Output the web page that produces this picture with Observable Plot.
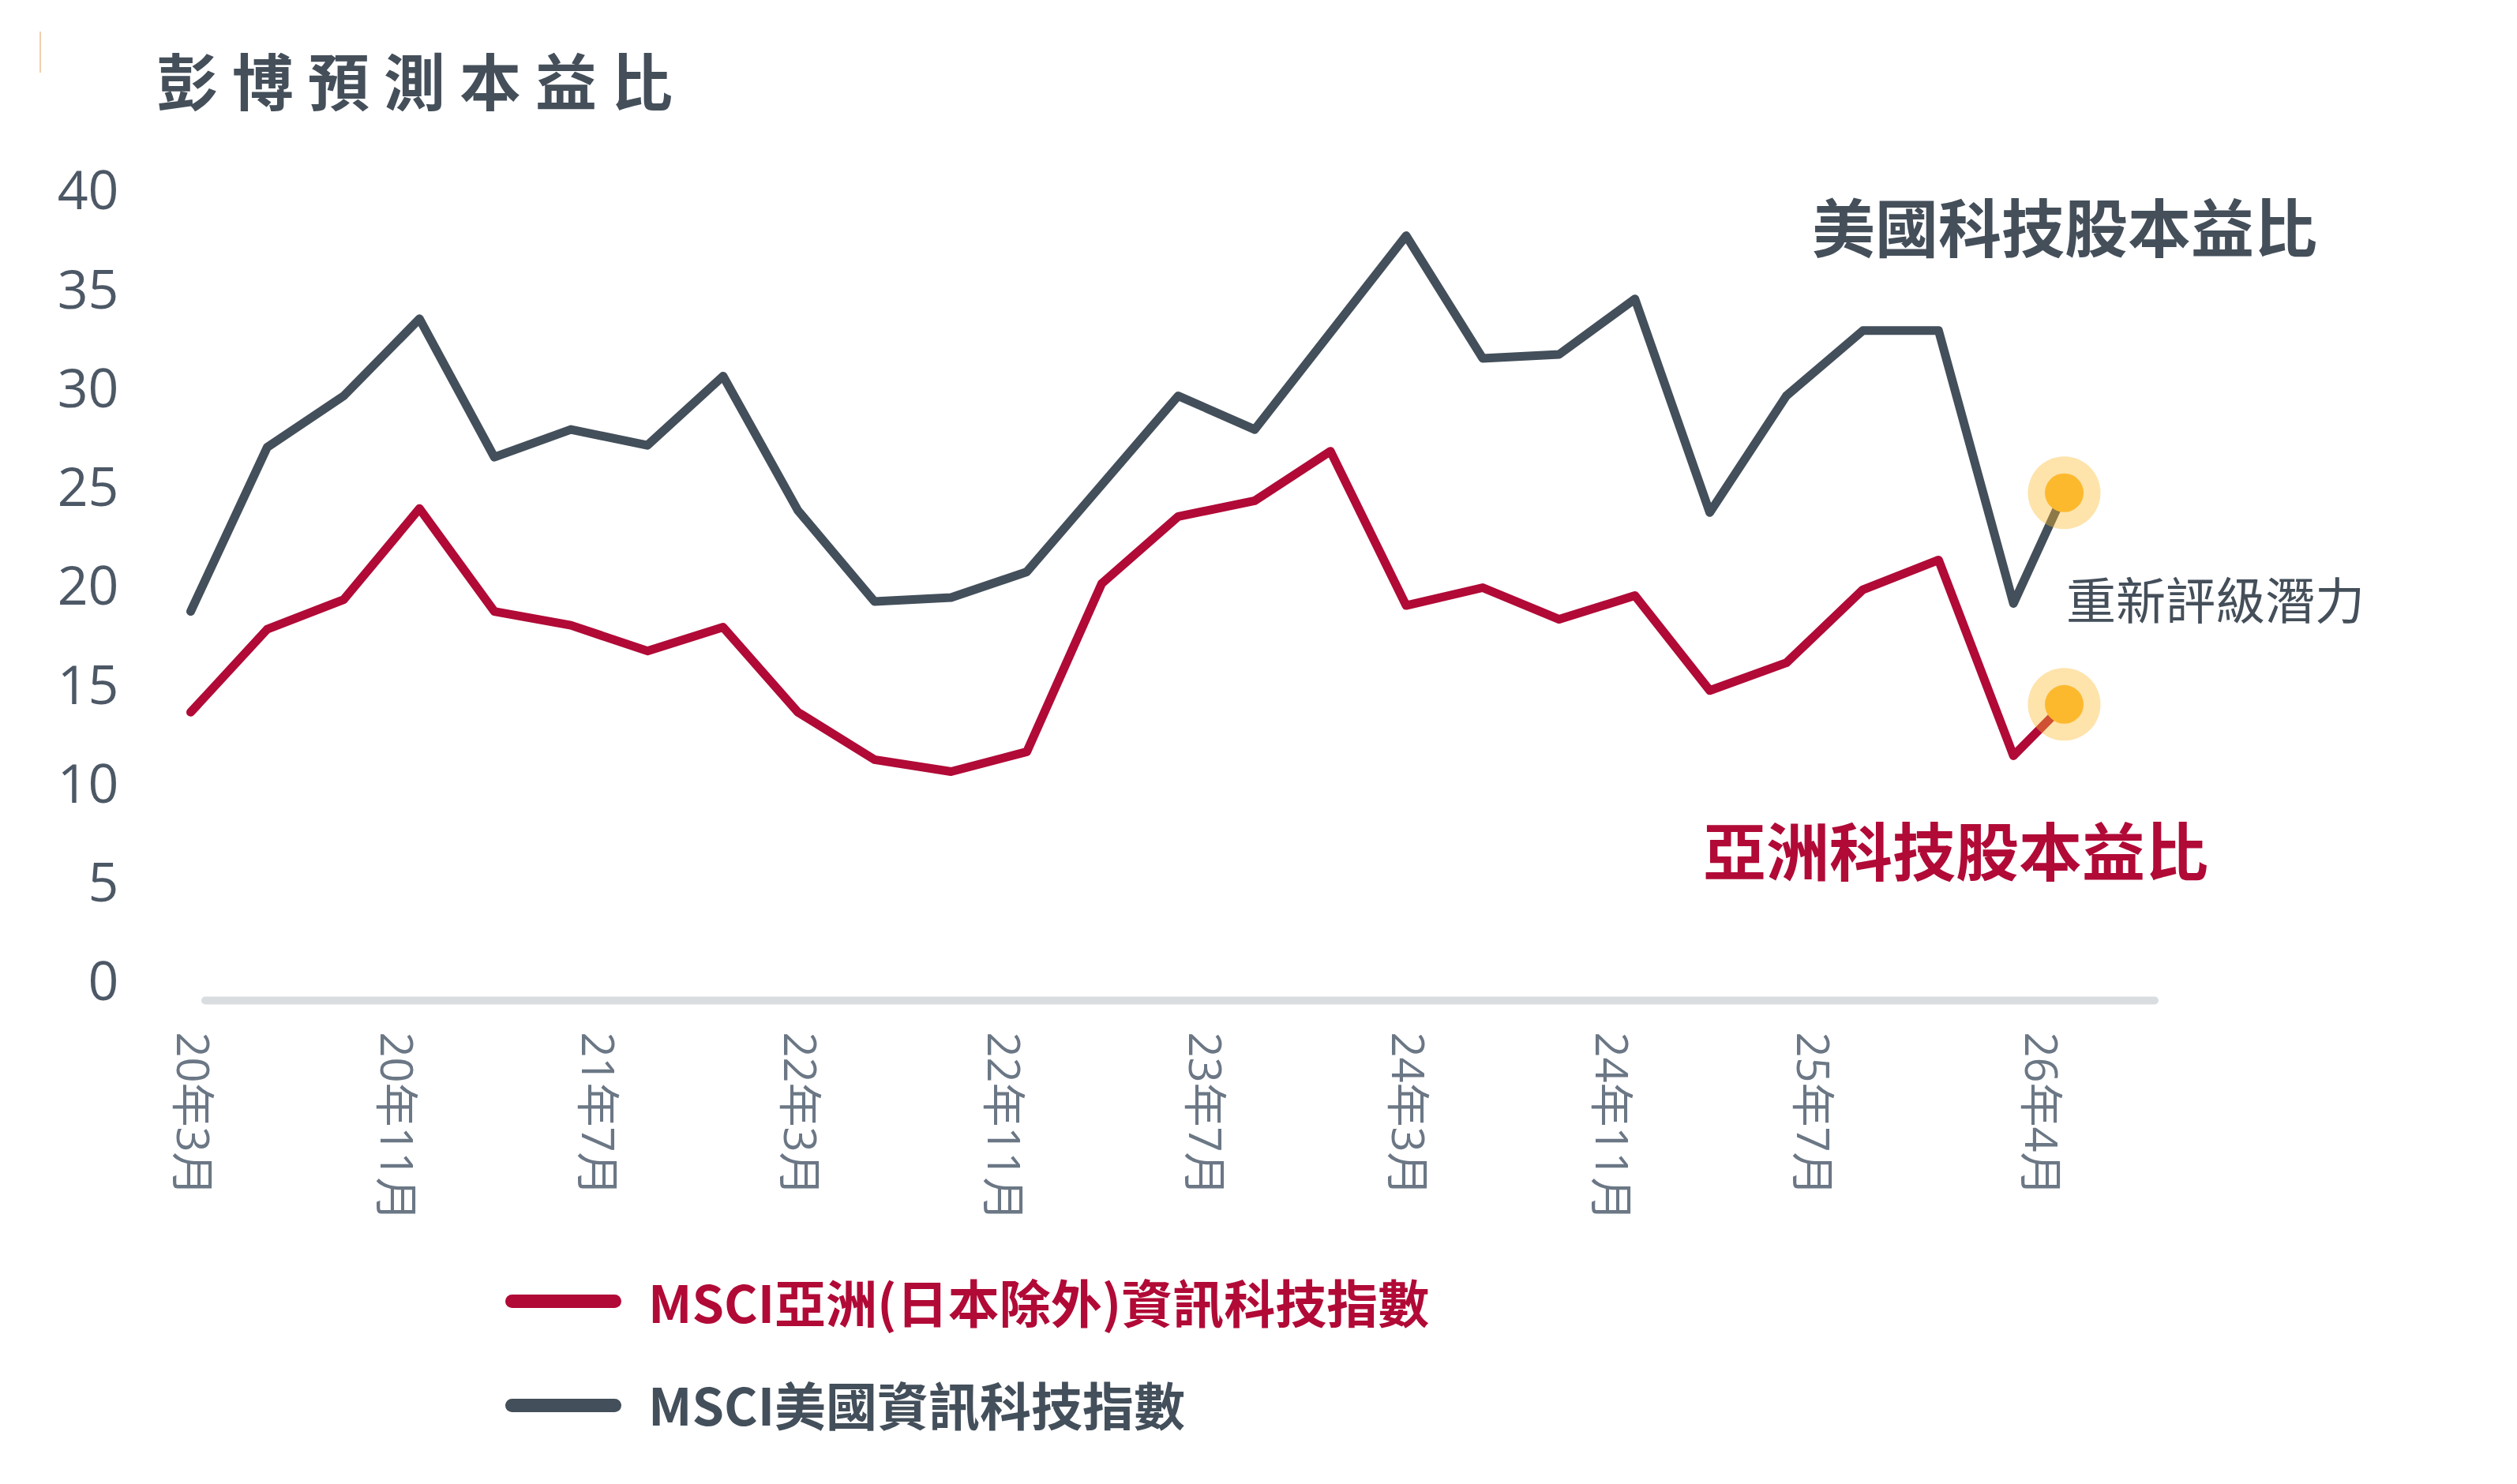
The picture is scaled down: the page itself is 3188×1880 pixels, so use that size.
<!DOCTYPE html>
<html>
<head>
<meta charset="utf-8">
<script src="https://cdn.jsdelivr.net/npm/d3@7"></script>
<script src="https://cdn.jsdelivr.net/npm/@observablehq/plot@0.6"></script>
<style>
  html, body { margin: 0; padding: 0; background: #fff; overflow: hidden; }
  #wrap { position: relative; width: 3188px; height: 1880px; font-family: "Noto Sans CJK TC", "Noto Sans", sans-serif; }
  #chart { position: absolute; left: 0; top: 0; }
  .t { position: absolute; line-height: 1; white-space: nowrap; font-family: "Noto Sans CJK TC", sans-serif; }
  .sw { position: absolute; height: 17px; border-radius: 9px; }
</style>
</head>
<body>
<div id="wrap">
  <div id="chart"></div>
  <div style="position:absolute;left:50px;top:40px;width:2px;height:52px;background:#f1cfae;"></div>
  <div class="t" id="title" style="left:198px;top:61px;font-size:78px;letter-spacing:18px;font-weight:700;color:#444f5a;"></div>
  <div class="t" id="usNote" style="left:2295px;top:244px;font-size:80px;font-weight:700;color:#444f5a;"></div>
  <div class="t" id="asiaNote" style="left:2157px;top:1034px;font-size:80px;font-weight:700;color:#b10a37;"></div>
  <div class="t" id="rerate" style="left:2617px;top:725px;font-size:63px;font-weight:400;color:#444f5a;"></div>
  <div class="sw" style="left:640px;top:1640px;width:147px;background:#b10a37;"></div>
  <div class="t" id="legAsia" style="left:821px;top:1616px;font-size:65px;font-weight:700;color:#b10a37;"></div>
  <div class="sw" style="left:640px;top:1772px;width:147px;background:#434f5a;"></div>
  <div class="t" id="legUS" style="left:821px;top:1746px;font-size:65px;font-weight:700;color:#434f5a;"></div>
</div>
<script>
// ---- data ----
const titleText = "彭博預測本益比";
const usLabel = "美國科技股本益比";
const asiaLabel = "亞洲科技股本益比";
const rerateLabel = "重新評級潛力";
const legendAsia = "MSCI亞洲(日本除外)資訊科技指數";
const legendUS = "MSCI美國資訊科技指數";

const dates = [
  "2020-03","2020-06","2020-09","2020-12",
  "2021-03","2021-06","2021-09","2021-12",
  "2022-03","2022-06","2022-09","2022-12",
  "2023-03","2023-06","2023-09","2023-12",
  "2024-03","2024-06","2024-09","2024-12",
  "2025-03","2025-06","2025-09","2025-12",
  "2026-03","2026-05"
];
const usPE = [
  18.8, 27.1, 29.7, 33.6, 26.6, 28.0, 27.2, 30.7, 23.9, 19.3,
  19.5, 20.8, 25.2, 29.7, 28.0, 32.9, 37.8, 31.6, 31.8, 34.6,
  23.8, 29.7, 33.0, 33.0, 19.2, 24.8
];
const asiaPE = [
  13.7, 17.9, 19.4, 24.0, 18.8, 18.1, 16.8, 18.0, 13.7, 11.3,
  10.7, 11.7, 20.2, 23.6, 24.4, 26.9, 19.1, 20.0, 18.4, 19.6,
  14.8, 16.2, 19.9, 21.4, 11.5, 14.1
];
const tickDates = ["2020-03","2020-11","2021-07","2022-03","2022-11","2023-07","2024-03","2024-11","2025-07","2026-04"];
const tickLabels = ["20年3月","20年11月","21年7月","22年3月","22年11月","23年7月","24年3月","24年11月","25年7月","26年4月"];
const yTicks = [0, 5, 10, 15, 20, 25, 30, 35, 40];

// ---- build ----
const parse = s => new Date(s + "-01T00:00:00Z");
const table = dates.map((d, i) => ({date: parse(d), us: usPE[i], asia: asiaPE[i]}));
const last = [table[table.length - 1]];
const tickObjs = tickDates.map(parse);
const labelMap = new Map(tickObjs.map((d, i) => [+d, tickLabels[i]]));

const RED = "#b10a37", GRAY = "#434f5a", GOLD = "#fdb92e";

const chart = Plot.plot({
  width: 3188,
  height: 1880,
  marginTop: 243,
  marginBottom: 635,
  marginLeft: 241,
  marginRight: 574,
  style: {background: "transparent", fontFamily: "'Open Sans', 'Noto Sans CJK TC', sans-serif"},
  x: {type: "utc", domain: [parse(dates[0]), parse(dates[dates.length - 1])], axis: null},
  y: {domain: [0, 40], axis: null, label: null},
  marks: [
    Plot.ruleY([0], {stroke: "#dadde0", strokeWidth: 10, strokeLinecap: "round", dy: 22, insetLeft: 19, insetRight: -115}),
    Plot.axisY(yTicks, {tickSize: 0, tickPadding: 91, fontSize: 68, fill: "#4d5866", fontFamily: "'Open Sans', sans-serif", label: null}),
    Plot.axisX(tickObjs, {tickFormat: d => labelMap.get(+d), tickRotate: 90, tickSize: 0, tickPadding: 62, fontSize: 56, fill: "#6b7785", fontFamily: "'Open Sans', 'Noto Sans CJK TC', sans-serif", label: null}),
    Plot.lineY(table, {x: "date", y: "us", stroke: GRAY, strokeWidth: 11, strokeLinejoin: "round", strokeLinecap: "round"}),
    Plot.lineY(table, {x: "date", y: "asia", stroke: RED, strokeWidth: 11, strokeLinejoin: "round", strokeLinecap: "round"}),
    Plot.dot(last, {x: "date", y: "us", r: 46, fill: GOLD, fillOpacity: 0.4}),
    Plot.dot(last, {x: "date", y: "asia", r: 46, fill: GOLD, fillOpacity: 0.4}),
    Plot.dot(last, {x: "date", y: "us", r: 24.5, fill: GOLD}),
    Plot.dot(last, {x: "date", y: "asia", r: 24.5, fill: GOLD})
  ]
});
document.getElementById("chart").appendChild(chart);
document.getElementById("title").textContent = titleText;
document.getElementById("usNote").textContent = usLabel;
document.getElementById("asiaNote").textContent = asiaLabel;
document.getElementById("rerate").textContent = rerateLabel;
document.getElementById("legAsia").textContent = legendAsia;
document.getElementById("legUS").textContent = legendUS;
</script>
</body>
</html>
